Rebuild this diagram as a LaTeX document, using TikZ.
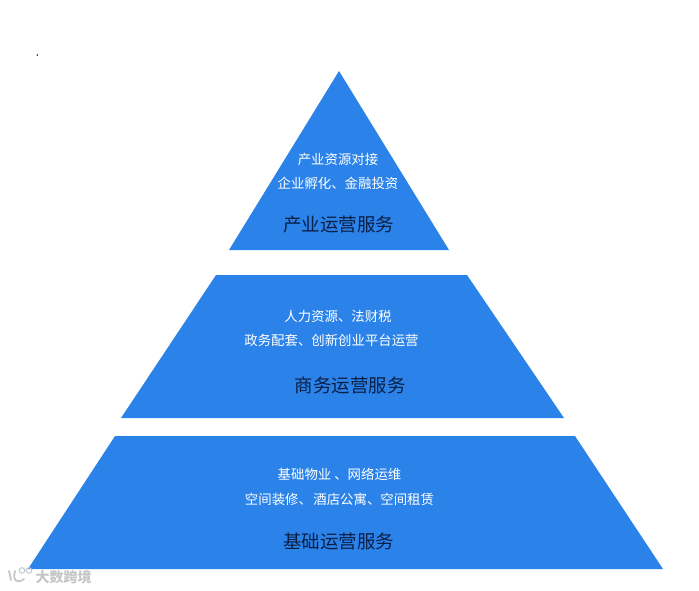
\documentclass[tikz,border=0pt]{standalone}
\usepackage{fontspec}
\setmainfont{Noto Sans CJK SC}
\definecolor{tierblue}{HTML}{2B83EA}
\definecolor{titledark}{HTML}{0B1F45}
\definecolor{markgray}{HTML}{C4C6C8}
\begin{document}
\begin{tikzpicture}[
    x=1pt,
    y=-1pt,
    tier/.style={fill=tierblue,draw=none},
    detail label/.style={font=\fontsize{13.4pt}{15pt}\selectfont,text=white,inner sep=0pt},
    title label/.style={font=\fontsize{18.5pt}{21pt}\selectfont,text=titledark,inner sep=0pt},
    mark label/.style={font=\fontsize{14pt}{15pt}\selectfont\bfseries,text=markgray,inner sep=0pt}
  ]
    \useasboundingbox (0,0) rectangle (699,590);

    % 1. Coordinates
    \coordinate (A) at (339,71);
    \coordinate (B) at (449,250);
    \coordinate (C) at (229,250);
    \coordinate (D) at (216,275);
    \coordinate (E) at (467,275);
    \coordinate (F) at (564,418);
    \coordinate (G) at (121,418);
    \coordinate (H) at (115,436);
    \coordinate (I) at (575,436);
    \coordinate (J) at (663,569);
    \coordinate (K) at (28,569);

    % 2. Tiers
    \fill[tier] (A) -- (B) -- (C) -- cycle;
    \fill[tier] (D) -- (E) -- (F) -- (G) -- cycle;
    \fill[tier] (H) -- (I) -- (J) -- (K) -- cycle;

    % 3. Texts
    \node[detail label] (topA) at (338,159) {产业资源对接};
    \node[detail label] (topB) at (338,183) {企业孵化、金融投资};
    \node[title label] (topTitle) at (338.5,225) {产业运营服务};

    \node[detail label] (midA) at (338,316) {人力资源、法财税};
    \node[detail label] (midB) at (331.5,340) {政务配套、创新创业平台运营};
    \node[title label] (midTitle) at (350,385) {商务运营服务};

    \node[detail label] (lowA) at (339.5,474) {基础物业 、网络运维};
    \node[detail label] (lowB) at (339.5,499) {空间装修、\hspace{1.5pt}酒店公寓、空间租赁};
    \node[title label] (lowTitle) at (338.5,541) {基础运营服务};

    % 4. Small dot and corner mark
    \fill[black] (37.3,55) circle (0.8);
    \draw[markgray,line width=1.8pt,line cap=round] (9,571) -- (11,580);
    \draw[markgray,line width=1.8pt,line cap=round] (24,579) .. controls (18,584) and (12,581) .. (15,571);
    \foreach \spot in {22,29} {
        \draw[markgray,line width=1pt] (\spot,570.5) circle (2.8);
    }
    \node[mark label] (markText) at (63.5,577) {大数跨境};

  \end{tikzpicture}
\end{document}
